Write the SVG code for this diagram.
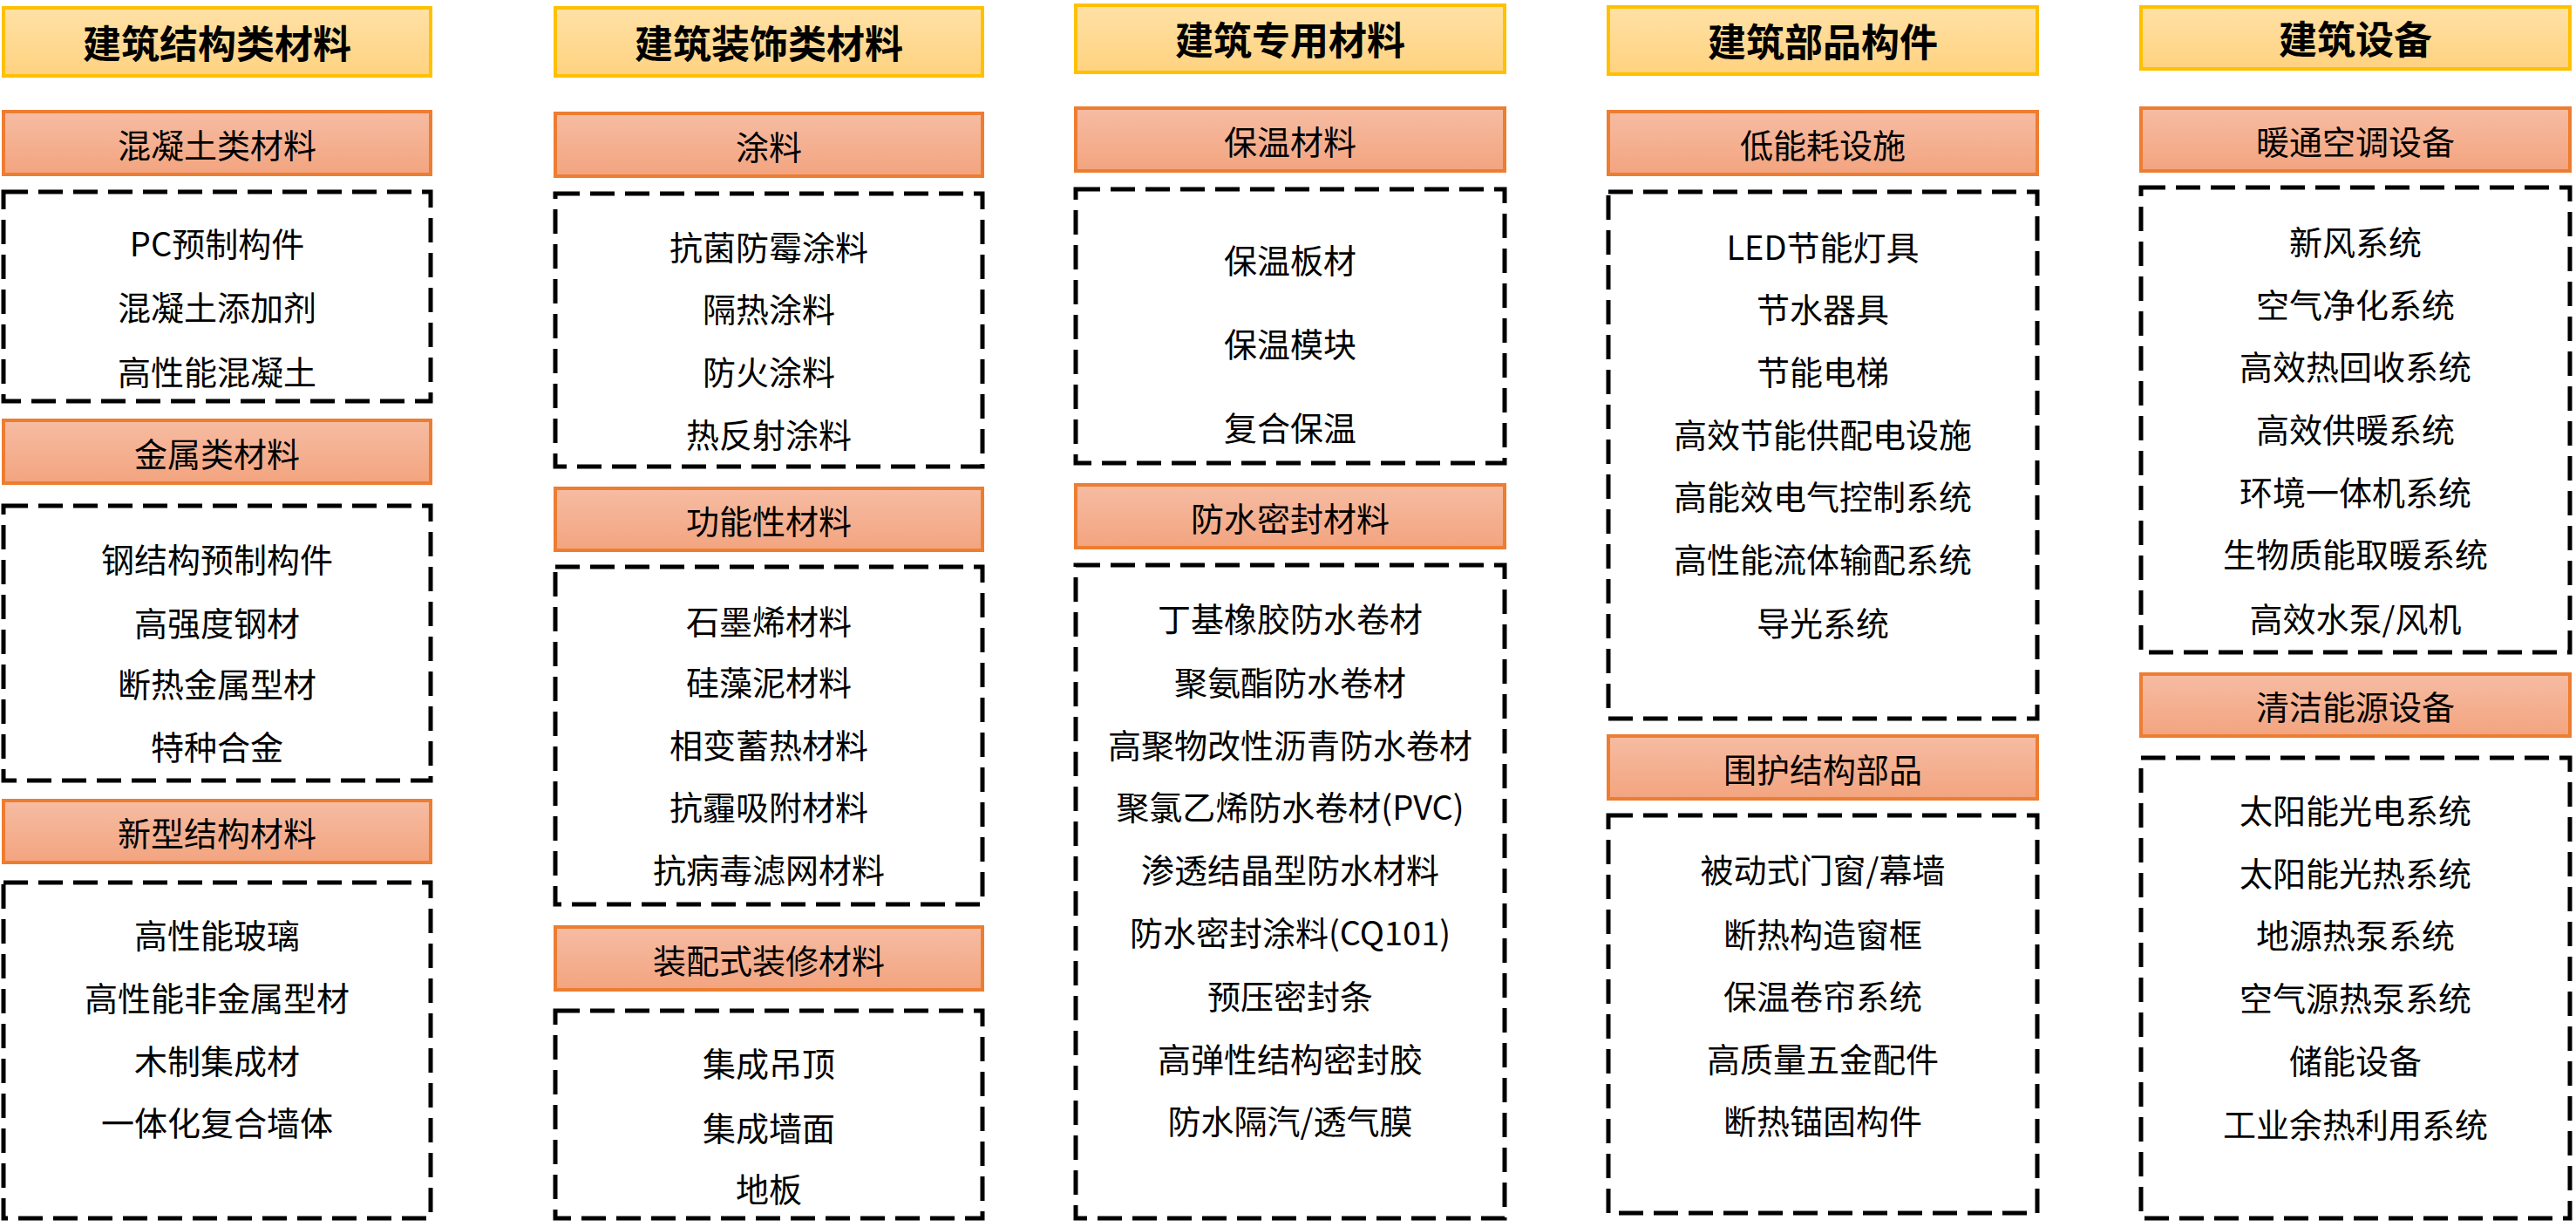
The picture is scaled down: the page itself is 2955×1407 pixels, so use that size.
<svg xmlns="http://www.w3.org/2000/svg" width="2955" height="1407" viewBox="0 0 2955 1407">
<defs>
<linearGradient id="gh" x1="0" y1="0" x2="0" y2="1"><stop offset="0" stop-color="#FFE1A6"/><stop offset="1" stop-color="#FFD27F"/></linearGradient>
<linearGradient id="gs" x1="0" y1="0" x2="0" y2="1"><stop offset="0" stop-color="#F6BCA3"/><stop offset="1" stop-color="#F3A47F"/></linearGradient>
</defs>
<style>
.h{fill:url(#gh);stroke:#FFC000;stroke-width:4}
.s{fill:url(#gs);stroke:#ED7D31;stroke-width:4}
.d{fill:#fff;stroke:#000;stroke-width:5;stroke-dasharray:28 12}
text{font-family:"Noto Sans CJK SC","Microsoft YaHei",sans-serif;font-size:38px;fill:#000;text-anchor:middle;dominant-baseline:central}
.ht{font-size:44px;font-weight:bold}
</style>
<rect width="2955" height="1407" fill="#fff"/>
<g id="col1">
<g id="h1"><rect class="h" x="4" y="9" width="490" height="78"/><text class="ht" x="249" y="48">建筑结构类材料</text></g>
<g id="s11"><rect class="s" x="4" y="128" width="490" height="72"/><text x="249" y="164">混凝土类材料</text></g>
<g id="d11"><rect class="d" x="4" y="220" width="490" height="240"/><text x="249" y="277">PC预制构件</text><text x="249" y="350">混凝土添加剂</text><text x="249" y="424">高性能混凝土</text></g>
<g id="s12"><rect class="s" x="4" y="482" width="490" height="72"/><text x="249" y="518">金属类材料</text></g>
<g id="d12"><rect class="d" x="4" y="580" width="490" height="315"/><text x="249" y="639">钢结构预制构件</text><text x="249" y="712">高强度钢材</text><text x="249" y="782">断热金属型材</text><text x="249" y="854">特种合金</text></g>
<g id="s13"><rect class="s" x="4" y="918" width="490" height="71"/><text x="249" y="953">新型结构材料</text></g>
<g id="d13"><rect class="d" x="4" y="1012" width="490" height="385"/><text x="249" y="1070">高性能玻璃</text><text x="249" y="1142">高性能非金属型材</text><text x="249" y="1214">木制集成材</text><text x="249" y="1285">一体化复合墙体</text></g>
</g>
<g id="col2">
<g id="h2"><rect class="h" x="637" y="9" width="490" height="78"/><text class="ht" x="882" y="48">建筑装饰类材料</text></g>
<g id="s21"><rect class="s" x="637" y="130" width="490" height="72"/><text x="882" y="166">涂料</text></g>
<g id="d21"><rect class="d" x="637" y="222" width="490" height="313"/><text x="882" y="281">抗菌防霉涂料</text><text x="882" y="352">隔热涂料</text><text x="882" y="424">防火涂料</text><text x="882" y="496">热反射涂料</text></g>
<g id="s22"><rect class="s" x="637" y="560" width="490" height="71"/><text x="882" y="595">功能性材料</text></g>
<g id="d22"><rect class="d" x="637" y="650" width="490" height="387"/><text x="882" y="710">石墨烯材料</text><text x="882" y="780">硅藻泥材料</text><text x="882" y="852">相变蓄热材料</text><text x="882" y="923">抗霾吸附材料</text><text x="882" y="995">抗病毒滤网材料</text></g>
<g id="s23"><rect class="s" x="637" y="1063" width="490" height="72"/><text x="882" y="1099">装配式装修材料</text></g>
<g id="d23"><rect class="d" x="637" y="1159" width="490" height="238"/><text x="882" y="1217">集成吊顶</text><text x="882" y="1291">集成墙面</text><text x="882" y="1361">地板</text></g>
</g>
<g id="col3">
<g id="h3"><rect class="h" x="1234" y="6" width="492" height="77"/><text class="ht" x="1480" y="44">建筑专用材料</text></g>
<g id="s31"><rect class="s" x="1234" y="124" width="492" height="72"/><text x="1480" y="160">保温材料</text></g>
<g id="d31"><rect class="d" x="1234" y="217" width="492" height="314"/><text x="1480" y="296">保温板材</text><text x="1480" y="392">保温模块</text><text x="1480" y="488">复合保温</text></g>
<g id="s32"><rect class="s" x="1234" y="556" width="492" height="72"/><text x="1480" y="592">防水密封材料</text></g>
<g id="d32"><rect class="d" x="1234" y="648" width="492" height="749"/><text x="1480" y="707">丁基橡胶防水卷材</text><text x="1480" y="780">聚氨酯防水卷材</text><text x="1480" y="852">高聚物改性沥青防水卷材</text><text x="1480" y="923">聚氯乙烯防水卷材(PVC)</text><text x="1480" y="995">渗透结晶型防水材料</text><text x="1480" y="1067">防水密封涂料(CQ101)</text><text x="1480" y="1140">预压密封条</text><text x="1480" y="1212">高弹性结构密封胶</text><text x="1480" y="1283">防水隔汽/透气膜</text></g>
</g>
<g id="col4">
<g id="h4"><rect class="h" x="1845" y="8" width="492" height="77"/><text class="ht" x="2091" y="46">建筑部品构件</text></g>
<g id="s41"><rect class="s" x="1845" y="128" width="492" height="72"/><text x="2091" y="164">低能耗设施</text></g>
<g id="d41"><rect class="d" x="1845" y="220" width="492" height="604"/><text x="2091" y="281">LED节能灯具</text><text x="2091" y="352">节水器具</text><text x="2091" y="424">节能电梯</text><text x="2091" y="496">高效节能供配电设施</text><text x="2091" y="567">高能效电气控制系统</text><text x="2091" y="639">高性能流体输配系统</text><text x="2091" y="712">导光系统</text></g>
<g id="s42"><rect class="s" x="1845" y="844" width="492" height="72"/><text x="2091" y="880">围护结构部品</text></g>
<g id="d42"><rect class="d" x="1845" y="935" width="492" height="456"/><text x="2091" y="995">被动式门窗/幕墙</text><text x="2091" y="1069">断热构造窗框</text><text x="2091" y="1140">保温卷帘系统</text><text x="2091" y="1212">高质量五金配件</text><text x="2091" y="1283">断热锚固构件</text></g>
</g>
<g id="col5">
<g id="h5"><rect class="h" x="2456" y="8" width="492" height="71"/><text class="ht" x="2702" y="43">建筑设备</text></g>
<g id="s51"><rect class="s" x="2456" y="124" width="492" height="72"/><text x="2702" y="160">暖通空调设备</text></g>
<g id="d51"><rect class="d" x="2456" y="215" width="492" height="533"/><text x="2702" y="275">新风系统</text><text x="2702" y="347">空气净化系统</text><text x="2702" y="418">高效热回收系统</text><text x="2702" y="490">高效供暖系统</text><text x="2702" y="562">环境一体机系统</text><text x="2702" y="633">生物质能取暖系统</text><text x="2702" y="707">高效水泵/风机</text></g>
<g id="s52"><rect class="s" x="2456" y="773" width="492" height="71"/><text x="2702" y="808">清洁能源设备</text></g>
<g id="d52"><rect class="d" x="2456" y="869" width="492" height="528"/><text x="2702" y="927">太阳能光电系统</text><text x="2702" y="999">太阳能光热系统</text><text x="2702" y="1070">地源热泵系统</text><text x="2702" y="1142">空气源热泵系统</text><text x="2702" y="1214">储能设备</text><text x="2702" y="1287">工业余热利用系统</text></g>
</g>
<g id="connectors"/>
</svg>
